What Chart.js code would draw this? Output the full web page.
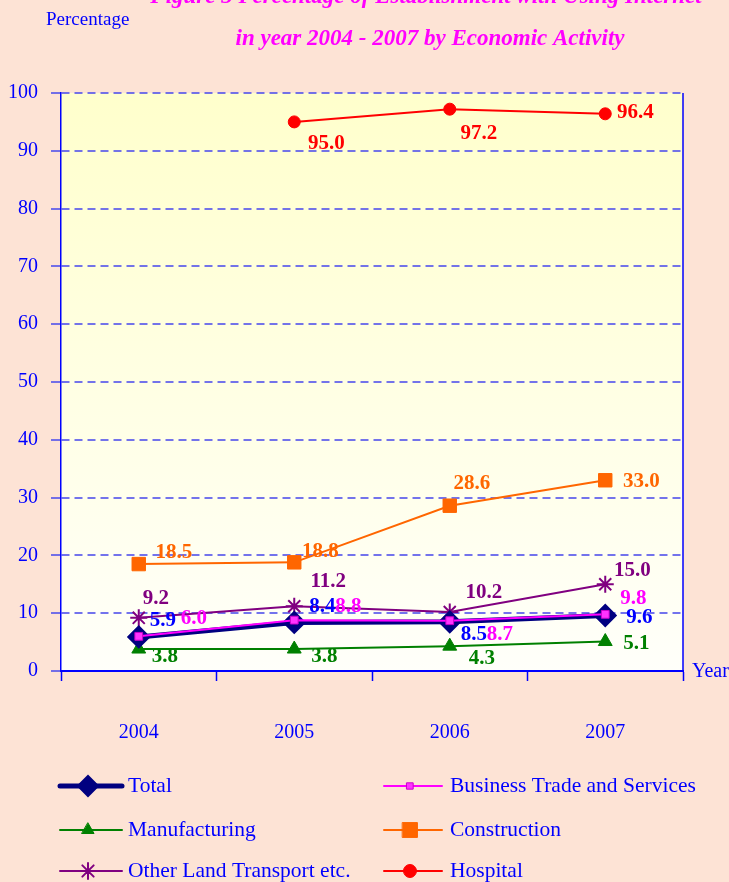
<!DOCTYPE html>
<html>
<head>
<meta charset="utf-8">
<script src="https://cdn.jsdelivr.net/npm/chart.js@4.4.1/dist/chart.umd.min.js"></script>
<style>
    html, body { margin: 0; padding: 0; background: #FDE3D5; }
    canvas { display: block; }
</style>
</head>
<body>
<canvas id="chart" width="729" height="882"></canvas>
<script>
// data
const years = ['2004', '2005', '2006', '2007'];
const totalVals = [5.9, 8.4, 8.5, 9.6];
const businessVals = [6.0, 8.8, 8.7, 9.8];
const manufacturingVals = [3.8, 3.8, 4.3, 5.1];
const constructionVals = [18.5, 18.8, 28.6, 33.0];
const transportVals = [9.2, 11.2, 10.2, 15.0];
const hospitalVals = [null, 95.0, 97.2, 96.4];
const yMin = 0, yMax = 100, yStep = 10;

const titleLines = ['Figure 3 Percentage of Establishment with Using Internet',
                    'in year 2004 - 2007 by Economic Activity'];

const serif = 'Liberation Serif, Times New Roman, serif';
const axisBlue = '#0000FF';

// where each value label sits relative to its point (dx, dy)
const labelOffsets = {
    total:         [[24, -16], [28, -16], [24, 13], [34, 2]],
    business:      [[55, -18], [54, -14], [50, 14], [28, -16]],
    manufacturing: [[26, 8], [30, 8], [32, 12], [31, 2]],
    construction:  [[35, -11], [26, -11], [22, -22], [36, 1]],
    transport:     [[17, -19], [34, -25], [34, -19], [27, -14]],
    hospital:      [null, [32, 22], [29, 24], [30, -1]],
};

const bgPlugin = {
    id: 'bg',
    beforeDraw(chart) {
        const {ctx, chartArea: a} = chart;
        ctx.save();
        ctx.fillStyle = '#FDE3D5';
        ctx.fillRect(0, 0, chart.width, chart.height);
        const g = ctx.createLinearGradient(0, a.top, 0, a.bottom);
        g.addColorStop(0, '#FFFFCC');
        g.addColorStop(1, '#FFFFFA');
        ctx.fillStyle = g;
        ctx.fillRect(a.left, a.top, a.right - a.left, a.bottom - a.top);
        ctx.restore();
    },
    afterDraw(chart) {
        const {ctx, chartArea: a} = chart;
        ctx.save();
        ctx.strokeStyle = axisBlue;
        ctx.lineWidth = 1.5;
        ctx.beginPath();
        ctx.moveTo(a.right, a.top);
        ctx.lineTo(a.right, a.bottom);
        ctx.stroke();
        ctx.restore();
    }
};

const valueLabels = {
    id: 'valueLabels',
    afterDatasetsDraw(chart) {
        const ctx = chart.ctx;
        ctx.save();
        ctx.font = 'bold 21px ' + serif;
        ctx.textAlign = 'center';
        ctx.textBaseline = 'middle';
        chart.data.datasets.forEach((ds, i) => {
            const meta = chart.getDatasetMeta(i);
            const offs = labelOffsets[ds.key];
            ctx.fillStyle = ds.labelColor;
            meta.data.forEach((pt, j) => {
                const v = ds.data[j];
                if (v == null || !offs[j]) return;
                ctx.fillText(v.toFixed(1), pt.x + offs[j][0], pt.y + offs[j][1]);
            });
        });
        ctx.restore();
    }
};

const extraText = {
    id: 'extraText',
    afterDraw(chart) {
        const {ctx, chartArea: a} = chart;
        ctx.save();
        // titles
        ctx.fillStyle = '#FF00FF';
        ctx.font = 'italic bold 23px ' + serif;
        ctx.textAlign = 'center';
        ctx.textBaseline = 'alphabetic';
        ctx.fillText(titleLines[0], 426, 3);
        ctx.fillText(titleLines[1], 430, 45);

        ctx.fillStyle = axisBlue;
        ctx.font = '19px ' + serif;
        ctx.textAlign = 'left';
        ctx.textBaseline = 'middle';
        ctx.fillText('Percentage', 46, 20);
        ctx.font = '20px ' + serif;
        ctx.fillText('Year', a.right + 9, a.bottom + 1);

        // legend, two columns
        const cols = [{x0: 60, x1: 122, mx: 88, tx: 128}, {x0: 384, x1: 442, mx: 410, tx: 450}];
        const rows = [786, 830, 871];
        ctx.font = '21.5px ' + serif;
        chart.data.datasets.forEach((ds, i) => {
            const c = cols[i % 2], y = rows[Math.floor(i / 2)];
            ctx.strokeStyle = ds.borderColor;
            ctx.lineWidth = ds.borderWidth;
            ctx.lineCap = 'round';
            ctx.beginPath();
            ctx.moveTo(c.x0, y);
            ctx.lineTo(c.x1, y);
            ctx.stroke();
            ctx.fillStyle = ds.pointBackgroundColor;
            ctx.strokeStyle = ds.pointBorderColor;
            ctx.lineWidth = ds.pointBorderWidth;
            Chart.helpers.drawPoint(ctx, {
                pointStyle: ds.pointStyle, rotation: 0,
                radius: ds.legendRadius, borderWidth: ds.pointBorderWidth
            }, c.mx, y);
            ctx.fillStyle = axisBlue;
            ctx.fillText(ds.label, c.tx, y);
        });
        ctx.restore();
    }
};

const ctx = document.getElementById('chart').getContext('2d');

let chart = new Chart(ctx, {
    type: 'line',
    data: {
        labels: years,
        datasets: [
            {
                key: 'total', label: 'Total', data: totalVals, order: 1,
                borderColor: '#000080', borderWidth: 5, labelColor: '#0000FF',
                pointStyle: 'rectRot', pointRadius: 10.5, legendRadius: 10,
                pointBackgroundColor: '#000080', pointBorderColor: '#000080', pointBorderWidth: 2,
            },
            {
                key: 'business', label: 'Business Trade and Services', data: businessVals, order: 0,
                borderColor: '#FF00FF', borderWidth: 2, labelColor: '#FF00FF',
                pointStyle: 'rect', pointRadius: 5.5, legendRadius: 4.5,
                pointBackgroundColor: '#FF33FF', pointBorderColor: '#CC00CC', pointBorderWidth: 1,
            },
            {
                key: 'manufacturing', label: 'Manufacturing', data: manufacturingVals, order: 2,
                borderColor: '#008000', borderWidth: 2, labelColor: '#008000',
                pointStyle: 'triangle', pointRadius: 8, legendRadius: 7,
                pointBackgroundColor: '#008000', pointBorderColor: '#008000', pointBorderWidth: 1,
            },
            {
                key: 'construction', label: 'Construction', data: constructionVals, order: 3,
                borderColor: '#FF6600', borderWidth: 2, labelColor: '#FF6600',
                pointStyle: 'rect', pointRadius: 9.5, legendRadius: 10.5,
                pointBackgroundColor: '#FF6600', pointBorderColor: '#FF6600', pointBorderWidth: 1,
            },
            {
                key: 'transport', label: 'Other Land Transport etc.', data: transportVals, order: 4,
                borderColor: '#800080', borderWidth: 2, labelColor: '#800080',
                pointStyle: 'star', pointRadius: 8.5, legendRadius: 8,
                pointBackgroundColor: '#800080', pointBorderColor: '#800080', pointBorderWidth: 2,
            },
            {
                key: 'hospital', label: 'Hospital', data: hospitalVals, order: 5,
                borderColor: '#FF0000', borderWidth: 2, labelColor: '#FF0000',
                pointStyle: 'circle', pointRadius: 6, legendRadius: 6.5,
                pointBackgroundColor: '#FF0000', pointBorderColor: '#FF0000', pointBorderWidth: 1,
            },
        ]
    },
    options: {
        responsive: false,
        animation: false,
        spanGaps: false,
        layout: { padding: { top: 93, right: 46, left: 0, bottom: 0 } },
        plugins: {
            legend: { display: false },
            title: { display: false },
            tooltip: { enabled: false },
        },
        scales: {
            x: {
                offset: true,
                grid: { offset: true, drawOnChartArea: false, tickLength: 10, tickColor: axisBlue, tickWidth: 1.5 },
                border: { color: axisBlue, width: 2 },
                ticks: { color: axisBlue, font: { family: serif, size: 20 }, padding: 40 },
                afterFit: s => { s.height = 211; s.paddingLeft = 0; s.paddingRight = 0; },
            },
            y: {
                min: yMin, max: yMax,
                ticks: { stepSize: yStep, color: axisBlue, font: { family: serif, size: 20 }, padding: 13 },
                grid: { color: 'rgba(80, 80, 235, 0.8)', lineWidth: 2, tickLength: 10, tickColor: 'rgba(80, 80, 235, 0.8)', tickWidth: 2 },
                border: { color: axisBlue, width: 1.5, dash: [8, 5] },
                afterFit: s => { s.width = 61; s.paddingTop = 0; s.paddingBottom = 0; },
            },
        },
    },
    plugins: [bgPlugin, valueLabels, extraText],
});
</script>
</body>
</html>
